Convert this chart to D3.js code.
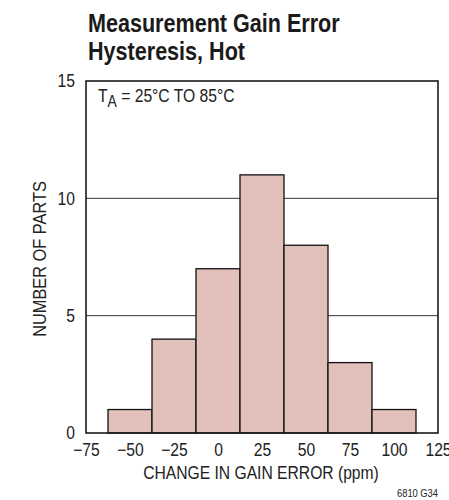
<!DOCTYPE html>
<html>
<head>
<meta charset="utf-8">
<script src="https://cdn.jsdelivr.net/npm/d3@7"></script>
<style>
  body { margin: 0; background: #fff; }
  svg { font-family: "Liberation Sans", Arial, sans-serif; }
  .tick text { font-size: 18px; fill: #222; }
  .graph-label { font-size: 18px; fill: #222; }
</style>
</head>
<body>
<svg width="449" height="500"></svg>
<script>
// histogram bins (bin centres, ppm) and counts
const binCenters = [-50, -25, 0, 25, 50, 75, 100]
const counts = [1, 4, 7, 11, 8, 3, 1]
const binWidth = 25
const xTicks = [-75, -50, -25, 0, 25, 50, 75, 100, 125]
const yTicks = [0, 5, 10, 15]
const gridLines = [5, 10]

// the reference uses a condensed face, so squeeze text horizontally
const squeeze = 0.87

let svg = d3.select('svg')
let margin = { left: 86, right: 11, top: 81, bottom: 67 }
let width = svg.attr('width') - margin.left - margin.right
let height = svg.attr('height') - margin.top - margin.bottom

let scale = {
    x: d3.scaleLinear().domain([-75, 125]).range([0, width]),
    y: d3.scaleLinear().domain([0, 15]).range([height, 0])
}

let fmt = d => d < 0 ? '\u2212' + Math.abs(d) : String(d)

// put a text at (x, y) and squeeze it around its anchor
function condense(sel, s) {
    sel.each(function () {
        let t = d3.select(this)
        let x = +t.attr('x') || 0
        let y = +t.attr('y') || 0
        t.attr('x', null).attr('y', null)
            .attr('transform', `translate(${x},${y}) scale(${s},1)`)
    })
}

let g = svg.append('g')
    .attr('transform', `translate(${margin.left}, ${margin.top})`)

// grid lines
g.selectAll('.grid')
    .data(gridLines)
    .enter()
    .append('line')
    .attr('x1', 0)
    .attr('x2', width)
    .attr('y1', d => scale.y(d))
    .attr('y2', d => scale.y(d))
    .attr('stroke', '#333')
    .attr('stroke-width', 1)

// bars
g.selectAll('.bar')
    .data(binCenters)
    .enter()
    .append('rect')
    .attr('class', 'bar')
    .attr('x', d => scale.x(d - binWidth / 2))
    .attr('y', (d, i) => scale.y(counts[i]))
    .attr('width', d => scale.x(d + binWidth / 2) - scale.x(d - binWidth / 2))
    .attr('height', (d, i) => height - scale.y(counts[i]))
    .attr('fill', '#e3c1bb')
    .attr('stroke', '#111')
    .attr('stroke-width', 1.3)

// frame
g.append('rect')
    .attr('x', 0)
    .attr('y', 0)
    .attr('width', width)
    .attr('height', height)
    .attr('fill', 'none')
    .attr('stroke', '#1a1a1a')
    .attr('stroke-width', 1.6)

// X axis
g.append('g')
    .attr('transform', `translate(0,${height})`)
    .call(d3.axisBottom(scale.x).tickValues(xTicks).tickSize(0).tickPadding(10).tickFormat(fmt))
    .call(a => a.select('.domain').remove())
    .call(a => condense(a.selectAll('text'), squeeze))

// Y axis
g.append('g')
    .call(d3.axisLeft(scale.y).tickValues(yTicks).tickSize(0).tickPadding(11))
    .call(a => a.select('.domain').remove())
    .call(a => condense(a.selectAll('text'), squeeze))

// X label
svg.append('text')
    .attr('x', 261)
    .attr('y', 479)
    .attr('text-anchor', 'middle')
    .attr('class', 'graph-label')
    .text('CHANGE IN GAIN ERROR (ppm)')
    .call(t => condense(t, squeeze))

// Y label
svg.append('g')
    .attr('transform', `translate(46,${margin.top + height / 2 + 2}) rotate(270)`)
    .append('text')
    .attr('text-anchor', 'middle')
    .attr('class', 'graph-label')
    .attr('transform', `scale(${squeeze + 0.04},1)`)
    .text('NUMBER OF PARTS')

// title
let title = svg.append('g')
    .attr('transform', 'translate(88,0) scale(0.83,1)')
    .append('text')
    .attr('font-size', 26)
    .attr('font-weight', 'bold')
    .attr('fill', '#1a1a1a')
title.append('tspan').attr('x', 0).attr('y', 32).text('Measurement Gain Error')
title.append('tspan').attr('x', 0).attr('y', 60).text('Hysteresis, Hot')

// condition note
let note = g.append('g')
    .attr('transform', `translate(12,${102 - margin.top}) scale(${squeeze},1)`)
    .append('text')
    .attr('class', 'graph-label')
note.append('tspan').text('T')
note.append('tspan').style('font-size', '16px').attr('dy', 5).text('A')
note.append('tspan').attr('dy', -5).text(' = 25°C TO 85°C')

// figure id
svg.append('text')
    .attr('x', 438)
    .attr('y', 497)
    .attr('text-anchor', 'end')
    .attr('font-size', 11)
    .attr('fill', '#222')
    .text('6810 G34')
    .call(t => condense(t, 0.85))
</script>
</body>
</html>
